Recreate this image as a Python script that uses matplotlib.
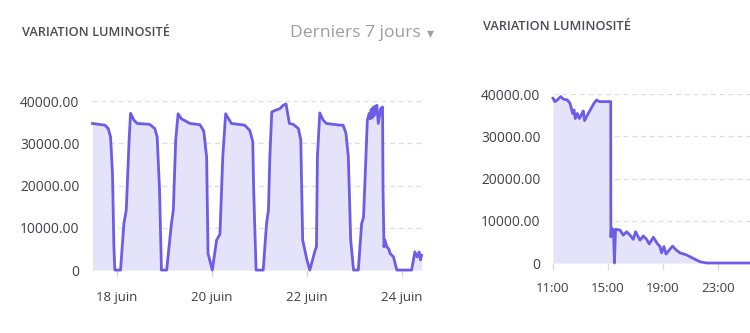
import matplotlib.pyplot as plt

plt.rcParams['font.family'] = ['Open Sans', 'DejaVu Sans']

# Last 7 days, x in days since 18 juin 00:00
week_days = [-0.51, -0.25, -0.18, -0.13, -0.09, -0.06, -0.04, 0.08, 0.15, 0.20,
             0.26, 0.29, 0.36, 0.43, 0.69, 0.80, 0.85, 0.90, 0.94, 1.05,
             1.15, 1.19, 1.24, 1.29, 1.36, 1.54, 1.75, 1.83, 1.89, 1.92,
             2.01, 2.10, 2.17, 2.23, 2.29, 2.41, 2.69, 2.80, 2.86, 2.88,
             2.93, 3.08, 3.15, 3.19, 3.22, 3.26, 3.33, 3.43, 3.50, 3.56,
             3.63, 3.71, 3.82, 3.87, 3.91, 4.00, 4.06, 4.17, 4.20, 4.22,
             4.27, 4.34, 4.41, 4.69, 4.76, 4.82, 4.87, 4.92, 4.98, 5.08,
             5.15, 5.19, 5.24, 5.27, 5.31, 5.33, 5.35, 5.37, 5.39, 5.41,
             5.43, 5.45, 5.47, 5.50, 5.55, 5.59, 5.60, 5.62, 5.64, 5.68,
             5.72, 5.75, 5.82, 5.89, 6.20, 6.27, 6.32, 6.36, 6.39, 6.41]
week_lux = [34700, 34300, 33500, 31500, 22900, 5500, 0, 0, 11000, 14200,
            30800, 37100, 35500, 34700, 34500, 33500, 31500, 18900, 0, 0,
            11000, 14200, 30800, 37000, 35800, 34700, 34400, 32900, 26800, 3900,
            0, 7100, 8500, 26800, 37000, 34700, 34300, 33000, 30400, 18900,
            0, 0, 11000, 14200, 26800, 37400, 37800, 38200, 39000, 39300,
            34700, 34500, 33500, 30800, 7100, 2400, 0, 4600, 5500, 26800,
            37200, 35500, 34700, 34300, 34300, 32400, 26800, 7100, 0, 0,
            11000, 12500, 26800, 35500, 37100, 35800, 38000, 36000, 38500, 36500,
            38800, 37000, 39000, 34700, 38200, 38600, 18900, 5500, 7100, 5500,
            5000, 3900, 3100, 0, 0, 4300, 3100, 4300, 2400, 3500]
week_ticks = [0, 2, 4, 6]
week_labels = ["18 juin", "20 juin", "22 juin", "24 juin"]

# Single day, x in hours
day_hours = [11.0, 11.14, 11.32, 11.56, 11.75, 12.04, 12.24, 12.43, 12.53, 12.62,
             12.77, 12.92, 13.06, 13.2, 13.3, 13.5, 13.74, 13.98, 14.17, 14.37,
             15.2, 15.21, 15.29, 15.4, 15.47, 15.55, 15.87, 16.11, 16.36, 16.6,
             16.84, 17.01, 17.33, 17.57, 17.81, 18.0, 18.3, 18.59, 18.78, 18.9,
             19.07, 19.22, 19.46, 19.7, 19.95, 20.24, 20.72, 21.2, 21.69, 22.18,
             25.4]
day_lux = [39000, 38200, 38600, 39400, 38800, 38600, 37800, 35400, 36200, 34200,
           35400, 34200, 35000, 36000, 33700, 35000, 36400, 37800, 38600, 38200,
           38200, 6200, 8200, 7600, 0, 8000, 7800, 6600, 7400, 6600,
           5600, 7400, 5400, 6400, 5600, 4500, 6100, 4600, 3900, 2400,
           3900, 2100, 3100, 4000, 3100, 2400, 1900, 1100, 300, 0,
           0]
day_ticks = [11, 15, 19, 23]
day_labels = ["11:00", "15:00", "19:00", "23:00"]

y_ticks = [0, 10000, 20000, 30000, 40000]
y_labels = ["0", "10000.00", "20000.00", "30000.00", "40000.00"]

line_color = "#6c5ce7"
fill_color = "#e5e3fa"
text_color = "#3f3f46"


def draw_panel(ax, xs, ys, xlim, xticks, xlabels, xpad):
    ax.fill_between(xs, ys, 0, color=fill_color, lw=0)
    ax.plot(xs, ys, color=line_color, lw=2.0, clip_on=False,
            solid_joinstyle="round")
    ax.set_xlim(*xlim)
    ax.set_ylim(0, 40000)
    ax.set_yticks(y_ticks)
    ax.set_yticklabels(y_labels)
    ax.set_xticks(xticks)
    ax.set_xticklabels(xlabels)
    ax.grid(axis="y", color="#dedede", ls=(0, (4, 3)), lw=0.9)
    ax.set_axisbelow(True)
    for s in ax.spines.values():
        s.set_visible(False)
    ax.tick_params(axis="y", length=0, pad=9, labelsize=9.9, labelcolor=text_color)
    ax.tick_params(axis="x", length=5, width=0.9, color="#d8d8d8", pad=xpad,
                   labelsize=9.5, labelcolor=text_color)


fig = plt.figure(figsize=(7.5, 3.33), dpi=100)

ax1 = fig.add_axes([0.1227, 0.189, 0.44, 0.5075])
draw_panel(ax1, week_days, week_lux, (-0.52, 6.42), week_ticks, week_labels, 10)

ax2 = fig.add_axes([0.7373, 0.2102, 0.2627, 0.5075])
draw_panel(ax2, day_hours, day_lux, (11, 25.33), day_ticks, day_labels, 9)

fig.text(22 / 750, 1 - 33 / 333, "VARIATION LUMINOSITÉ", fontsize=9.2,
         fontweight="semibold", color="#4b4b57", va="center", ha="left")
fig.text(483 / 750, 1 - 27 / 333, "VARIATION LUMINOSITÉ", fontsize=9.2,
         fontweight="semibold", color="#4b4b57", va="center", ha="left")
fig.text(290 / 750, 1 - 33 / 333, "Derniers 7 jours", fontsize=12.6,
         color="#9d9ca6", va="center", ha="left")
fig.text(430 / 750, 1 - 33 / 333, "▾", fontsize=10, family="DejaVu Sans",
         color="#9d9ca6", va="center", ha="center")

fig.savefig("out.png", dpi=100, facecolor="white")
